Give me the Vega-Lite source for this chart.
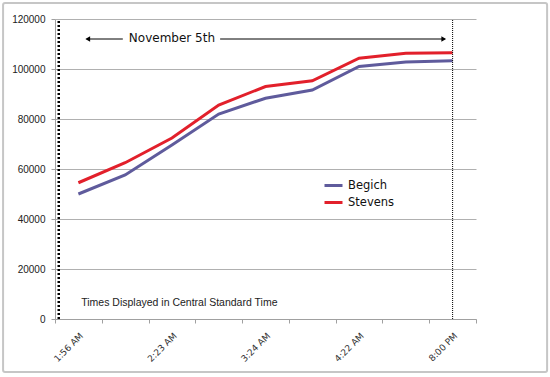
{
  "$schema": "https://vega.github.io/schema/vega-lite/v6.json",
  "width": 421,
  "height": 300,
  "autosize": "none",
  "padding": {"left": 55, "top": 19, "right": 74, "bottom": 58},
  "background": "white",
  "config": {"view": {"stroke": null}, "font": "DejaVu Sans"},
  "datasets": {
    "votes": [
      {"time": "1:56 AM", "candidate": "Begich", "votes": 50000},
      {"time": "2:09 AM", "candidate": "Begich", "votes": 57600},
      {"time": "2:23 AM", "candidate": "Begich", "votes": 69600},
      {"time": "2:52 AM", "candidate": "Begich", "votes": 82000},
      {"time": "3:24 AM", "candidate": "Begich", "votes": 88300},
      {"time": "3:51 AM", "candidate": "Begich", "votes": 91600},
      {"time": "4:22 AM", "candidate": "Begich", "votes": 101000},
      {"time": "5:10 AM", "candidate": "Begich", "votes": 102800},
      {"time": "8:00 PM", "candidate": "Begich", "votes": 103300},
      {"time": "1:56 AM", "candidate": "Stevens", "votes": 54500},
      {"time": "2:09 AM", "candidate": "Stevens", "votes": 62500},
      {"time": "2:23 AM", "candidate": "Stevens", "votes": 72400},
      {"time": "2:52 AM", "candidate": "Stevens", "votes": 85600},
      {"time": "3:24 AM", "candidate": "Stevens", "votes": 93000},
      {"time": "3:51 AM", "candidate": "Stevens", "votes": 95300},
      {"time": "4:22 AM", "candidate": "Stevens", "votes": 104300},
      {"time": "5:10 AM", "candidate": "Stevens", "votes": 106300},
      {"time": "8:00 PM", "candidate": "Stevens", "votes": 106500}
    ],
    "guides": [
      {"kind": "start", "time": "1:56 AM", "y1": 0, "y2": 120000},
      {"kind": "end", "time": "8:00 PM", "y1": 0, "y2": 120000}
    ],
    "notes": [
      {"kind": "line", "x1": 0.68, "x2": 1.45, "y": 112000},
      {"kind": "line", "x1": 3.53, "x2": 8.33, "y": 112000},
      {"kind": "headL", "x1": 0.7, "y": 112000},
      {"kind": "headR", "x1": 8.31, "y": 112000},
      {"kind": "title", "x1": 2.5, "y": 112400, "label": "November 5th"},
      {"kind": "note", "x1": 0.56, "y": 6400, "label": "Times Displayed in Central Standard Time"},
      {"kind": "frame", "x1": -1.11, "x2": 10.52, "y": 126400, "y2": -21200}
    ]
  },
  "layer": [
    {
      "layer": [
        {
          "data": {"name": "votes"},
          "mark": {"type": "line", "strokeWidth": 3},
          "encoding": {
            "x": {
              "field": "time",
              "type": "ordinal",
              "sort": null,
              "bandPosition": 0.5,
              "scale": {
                "type": "band",
                "domain": ["1:56 AM", "2:09 AM", "2:23 AM", "2:52 AM", "3:24 AM", "3:51 AM", "4:22 AM", "5:10 AM", "8:00 PM"],
                "paddingInner": 0,
                "paddingOuter": 0
              },
              "axis": {
                "title": null,
                "orient": "bottom",
                "tickBand": "extent",
                "grid": false,
                "labelExpr": "indexof(['1:56 AM','2:23 AM','3:24 AM','4:22 AM','8:00 PM'], datum.label) >= 0 ? datum.label : ''",
                "labelAngle": -45,
                "labelAlign": "right",
                "labelBaseline": "top",
                "labelFont": "DejaVu Sans",
                "labelFontSize": 9,
                "labelColor": "#333333",
                "labelPadding": 8,
                "tickSize": 4,
                "tickColor": "#a0a0a0",
                "domainColor": "#a0a0a0"
              }
            },
            "y": {
              "field": "votes",
              "type": "quantitative",
              "scale": {"domain": [0, 120000], "nice": false},
              "axis": {
                "title": null,
                "values": [0, 20000, 40000, 60000, 80000, 100000, 120000],
                "format": "d",
                "grid": true,
                "gridColor": "#b0b0b0",
                "domainColor": "#a0a0a0",
                "tickColor": "#a0a0a0",
                "tickSize": 4,
                "labelFont": "Liberation Sans",
                "labelFontSize": 10,
                "labelColor": "#222222",
                "labelPadding": 6
              }
            },
            "color": {
              "field": "candidate",
              "type": "nominal",
              "scale": {"domain": ["Begich", "Stevens"], "range": ["#5f5b9c", "#e2202b"]},
              "legend": {
                "title": null,
                "orient": "none",
                "legendX": 268,
                "legendY": 156,
                "padding": 0,
                "symbolType": "stroke",
                "symbolStrokeWidth": 3,
                "symbolSize": 324,
                "labelFont": "DejaVu Sans",
                "labelFontSize": 11.5,
                "labelColor": "#111111",
                "labelOffset": 4,
                "rowPadding": 0
              }
            }
          }
        },
        {
          "data": {"name": "guides"},
          "transform": [{"filter": "datum.kind == 'start'"}],
          "mark": {"type": "rule", "color": "black", "strokeWidth": 2.5, "strokeDash": [2, 2]},
          "encoding": {
            "x": {"field": "time", "type": "ordinal", "bandPosition": 0.08},
            "y": {"field": "y1", "type": "quantitative"},
            "y2": {"field": "y2"}
          }
        },
        {
          "data": {"name": "guides"},
          "transform": [{"filter": "datum.kind == 'end'"}],
          "mark": {"type": "rule", "color": "black", "strokeWidth": 1, "strokeDash": [1, 1]},
          "encoding": {
            "x": {"field": "time", "type": "ordinal", "bandPosition": 0.5},
            "y": {"field": "y1", "type": "quantitative"},
            "y2": {"field": "y2"}
          }
        }
      ]
    },
    {
      "data": {"name": "notes"},
      "layer": [
        {
          "transform": [{"filter": "datum.kind == 'frame'"}],
          "mark": {"type": "rect", "fill": null, "stroke": "#c6c6c6", "strokeWidth": 2, "cornerRadius": 2},
          "encoding": {
            "x": {"field": "x1", "type": "quantitative", "scale": {"domain": [0, 9], "nice": false, "zero": false}, "axis": null},
            "x2": {"field": "x2"},
            "y": {"field": "y", "type": "quantitative"},
            "y2": {"field": "y2"}
          }
        },
        {
          "transform": [{"filter": "datum.kind == 'line'"}],
          "mark": {"type": "rule", "color": "black", "strokeWidth": 1},
          "encoding": {
            "x": {"field": "x1", "type": "quantitative", "axis": null},
            "x2": {"field": "x2"},
            "y": {"field": "y", "type": "quantitative"}
          }
        },
        {
          "transform": [{"filter": "datum.kind == 'headL'"}],
          "mark": {"type": "point", "shape": "triangle-left", "filled": true, "color": "black", "size": 30, "opacity": 1},
          "encoding": {
            "x": {"field": "x1", "type": "quantitative", "axis": null},
            "y": {"field": "y", "type": "quantitative"}
          }
        },
        {
          "transform": [{"filter": "datum.kind == 'headR'"}],
          "mark": {"type": "point", "shape": "triangle-right", "filled": true, "color": "black", "size": 30, "opacity": 1},
          "encoding": {
            "x": {"field": "x1", "type": "quantitative", "axis": null},
            "y": {"field": "y", "type": "quantitative"}
          }
        },
        {
          "transform": [{"filter": "datum.kind == 'title'"}],
          "mark": {"type": "text", "font": "DejaVu Sans", "fontSize": 12, "color": "#111111", "align": "center", "baseline": "middle"},
          "encoding": {
            "x": {"field": "x1", "type": "quantitative", "axis": null},
            "y": {"field": "y", "type": "quantitative"},
            "text": {"field": "label"}
          }
        },
        {
          "transform": [{"filter": "datum.kind == 'note'"}],
          "mark": {"type": "text", "font": "Liberation Sans", "fontSize": 10.5, "color": "#222222", "align": "left", "baseline": "middle"},
          "encoding": {
            "x": {"field": "x1", "type": "quantitative", "axis": null},
            "y": {"field": "y", "type": "quantitative"},
            "text": {"field": "label"}
          }
        }
      ]
    }
  ],
  "resolve": {"scale": {"x": "independent"}, "axis": {"x": "independent"}}
}
